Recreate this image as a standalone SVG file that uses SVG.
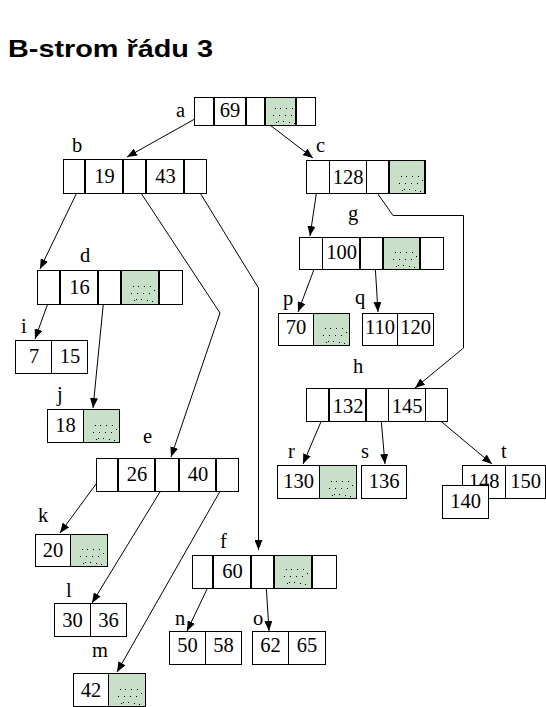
<svg xmlns="http://www.w3.org/2000/svg" xmlns:xlink="http://www.w3.org/1999/xlink" width="546" height="707" viewBox="0 0 546 707">
<style>
.c{fill:#fff;stroke:#000;stroke-width:1}
.gr{fill:#c8dfc8;stroke:#000;stroke-width:1}
.th{fill:none;stroke:#000;stroke-width:2}
.k{text-anchor:middle}
.ln{fill:none;stroke:#000;stroke-width:1}
</style>
<defs>
<marker id="ah" markerUnits="userSpaceOnUse" markerWidth="10" markerHeight="8" refX="10" refY="4" orient="auto">
<path d="M0,0 L10,4 L0,8 z" fill="#000"/>
</marker>
<g id="dots" fill="#000">
<rect x="12" y="16" width="1" height="1"/><rect x="17" y="16" width="1" height="1"/><rect x="23" y="16" width="1" height="1"/><rect x="29" y="16" width="1" height="1"/>
<rect x="10" y="23" width="1" height="1"/><rect x="16" y="23" width="1" height="1"/><rect x="22" y="23" width="1" height="1"/><rect x="28" y="23" width="1" height="1"/><rect x="33" y="20" width="1" height="1"/>
<rect x="13" y="30" width="1" height="1"/><rect x="15" y="29" width="1" height="1"/><rect x="20" y="29" width="1" height="1"/><rect x="26" y="30" width="1" height="1"/><rect x="31" y="31" width="1" height="1"/>
</g>
</defs>
<rect width="546" height="707" fill="#fff"/>
<text x="8" y="57" font-family="Liberation Sans, Arial, sans-serif" font-weight="bold" font-size="24" textLength="205" lengthAdjust="spacingAndGlyphs">B-strom řádu 3</text>

<g id="connectors">
<path class="ln" marker-end="url(#ah)" d="M209,111 L127,157"/>
<path class="ln" marker-end="url(#ah)" d="M253,112 L313,158"/>
<path class="ln" marker-end="url(#ah)" d="M81,184 L40,269"/>
<path class="ln" marker-end="url(#ah)" d="M137,187 L220,313 L171,457"/>
<path class="ln" marker-end="url(#ah)" d="M194,183 L258.5,288 L258.5,550"/>
<path class="ln" marker-end="url(#ah)" d="M317,189 L310,236"/>
<path class="ln" marker-end="url(#ah)" d="M373,187 L393,215.5 L463.5,215.5 L463.5,348 L415,388"/>
<path class="ln" marker-end="url(#ah)" d="M52,292 L35,339"/>
<path class="ln" marker-end="url(#ah)" d="M104,297 L93,408"/>
<path class="ln" marker-end="url(#ah)" d="M316,264 L298,312"/>
<path class="ln" marker-end="url(#ah)" d="M375,263 L378,312"/>
<path class="ln" marker-end="url(#ah)" d="M323,417 L303,464"/>
<path class="ln" marker-end="url(#ah)" d="M381,418 L385,464"/>
<path class="ln" marker-end="url(#ah)" d="M437,418 L492,464"/>
<path class="ln" marker-end="url(#ah)" d="M99,480 L60,533"/>
<path class="ln" marker-end="url(#ah)" d="M163,487 L92,603"/>
<path class="ln" marker-end="url(#ah)" d="M227,479 L117,672"/>
<path class="ln" marker-end="url(#ah)" d="M209,585 L187,631"/>
<path class="ln" marker-end="url(#ah)" d="M266,583 L269,631"/>
</g>

<g id="nodes" font-family="Liberation Serif, Times New Roman, serif" font-size="20.5" fill="#000">

<g id="node-a">
<rect class="c" x="194.5" y="97.5" width="20" height="28"/>
<rect class="c" x="214.5" y="97.5" width="31" height="28"/>
<rect class="c" x="245.5" y="97.5" width="20" height="28"/>
<rect class="gr" x="265.5" y="97.5" width="30" height="28"/>
<rect class="c" x="295.5" y="97.5" width="20" height="28"/>
<use xlink:href="#dots" x="263" y="92"/>
<path class="th" d="M214,97V126M246,97V126M265,97V126M296,97V126"/>
<text class="k" x="230" y="117">69</text>
<text x="176" y="117">a</text>
</g>

<g id="node-b">
<rect class="c" x="63.5" y="159.5" width="22" height="34"/>
<rect class="c" x="85.5" y="159.5" width="38" height="34"/>
<rect class="c" x="123.5" y="159.5" width="23" height="34"/>
<rect class="c" x="146.5" y="159.5" width="38" height="34"/>
<rect class="c" x="184.5" y="159.5" width="22" height="34"/>
<path class="th" d="M85,159V194M123,159V194M146,159V194M184,159V194"/>
<text class="k" x="104.5" y="183">19</text>
<text class="k" x="165.5" y="183">43</text>
<text x="72" y="152">b</text>
</g>

<g id="node-c">
<rect class="c" x="306.5" y="160.5" width="23" height="33"/>
<rect class="c" x="329.5" y="160.5" width="37" height="33"/>
<rect class="c" x="366.5" y="160.5" width="23" height="33"/>
<rect class="gr" x="389.5" y="160.5" width="36" height="33"/>
<use xlink:href="#dots" x="389" y="160"/>
<path class="th" d="M389,160V194M425,160V194"/>
<text class="k" x="348" y="184">128</text>
<text x="316" y="152">c</text>
</g>

<g id="node-d">
<rect class="c" x="37.5" y="270.5" width="23" height="34"/>
<rect class="c" x="60.5" y="270.5" width="38" height="34"/>
<rect class="c" x="98.5" y="270.5" width="23" height="34"/>
<rect class="gr" x="121.5" y="270.5" width="38" height="34"/>
<rect class="c" x="159.5" y="270.5" width="23" height="34"/>
<use xlink:href="#dots" x="121" y="270"/>
<path class="th" d="M60,270V305M98,270V305M121,270V305M159,270V305"/>
<text class="k" x="79.5" y="294">16</text>
<text x="80" y="262">d</text>
</g>

<g id="node-g">
<rect class="c" x="299.5" y="237.5" width="23" height="32"/>
<rect class="c" x="322.5" y="237.5" width="38" height="32"/>
<rect class="c" x="360.5" y="237.5" width="23" height="32"/>
<rect class="gr" x="383.5" y="237.5" width="37" height="32"/>
<rect class="c" x="420.5" y="237.5" width="23" height="32"/>
<use xlink:href="#dots" x="383" y="236"/>
<path class="th" d="M360,237V270M383,237V270M420,237V270"/>
<text class="k" x="341.5" y="259">100</text>
<text x="348" y="220">g</text>
</g>

<g id="node-p">
<rect class="c" x="278.5" y="313.5" width="35" height="32"/>
<rect class="gr" x="313.5" y="313.5" width="36" height="32"/>
<use xlink:href="#dots" x="313" y="312"/>
<text class="k" x="296" y="334">70</text>
<text x="283" y="305">p</text>
</g>

<g id="node-q">
<rect class="c" x="362.5" y="313.5" width="35" height="32"/>
<rect class="c" x="397.5" y="313.5" width="36" height="32"/>
<text class="k" x="380" y="334">110</text>
<text class="k" x="415.5" y="334">120</text>
<text x="355" y="304">q</text>
</g>

<g id="node-h">
<rect class="c" x="306.5" y="388.5" width="23" height="33"/>
<rect class="c" x="329.5" y="388.5" width="37" height="33"/>
<rect class="c" x="366.5" y="388.5" width="22" height="33"/>
<rect class="c" x="388.5" y="388.5" width="37" height="33"/>
<rect class="c" x="425.5" y="388.5" width="22" height="33"/>
<path class="th" d="M329,388V422M366,388V422"/>
<text class="k" x="348" y="413">132</text>
<text class="k" x="407" y="413">145</text>
<text x="353" y="373">h</text>
</g>

<g id="node-i">
<rect class="c" x="15.5" y="340.5" width="36" height="33"/>
<rect class="c" x="51.5" y="340.5" width="36" height="33"/>
<text class="k" x="34" y="363">7</text>
<text class="k" x="70" y="363">15</text>
<text x="21" y="333">i</text>
</g>

<g id="node-j">
<rect class="c" x="47.5" y="409.5" width="36" height="33"/>
<rect class="gr" x="83.5" y="409.5" width="36" height="33"/>
<use xlink:href="#dots" x="83" y="409"/>
<text class="k" x="65.5" y="432">18</text>
<text x="57" y="401">j</text>
</g>

<g id="node-e">
<rect class="c" x="96.5" y="458.5" width="22" height="33"/>
<rect class="c" x="118.5" y="458.5" width="37" height="33"/>
<rect class="c" x="155.5" y="458.5" width="24" height="33"/>
<rect class="c" x="179.5" y="458.5" width="37" height="33"/>
<rect class="c" x="216.5" y="458.5" width="22" height="33"/>
<path class="th" d="M118,458V492M155,458V492M179,458V492M216,458V492"/>
<text class="k" x="137" y="481">26</text>
<text class="k" x="198" y="481">40</text>
<text x="143" y="443">e</text>
</g>

<g id="node-r">
<rect class="c" x="277.5" y="465.5" width="42" height="33"/>
<rect class="gr" x="319.5" y="465.5" width="37" height="33"/>
<use xlink:href="#dots" x="319" y="465"/>
<text class="k" x="298.5" y="488">130</text>
<text x="288" y="458">r</text>
</g>

<g id="node-s">
<rect class="c" x="361.5" y="465.5" width="45" height="33"/>
<text class="k" x="384" y="488">136</text>
<text x="361" y="458">s</text>
</g>

<g id="node-t">
<rect class="c" x="462.5" y="465.5" width="43" height="33"/>
<rect class="c" x="505.5" y="465.5" width="40" height="33"/>
<text class="k" x="484" y="488">148</text>
<text class="k" x="525.5" y="488">150</text>
<text x="501" y="458">t</text>
</g>

<g id="node-140">
<rect class="c" x="442.5" y="485.5" width="46" height="33"/>
<text class="k" x="465.5" y="508">140</text>
</g>

<g id="node-k">
<rect class="c" x="35.5" y="534.5" width="35" height="32"/>
<rect class="gr" x="70.5" y="534.5" width="37" height="32"/>
<use xlink:href="#dots" x="70" y="533"/>
<text class="k" x="53" y="557">20</text>
<text x="38" y="522">k</text>
</g>

<g id="node-f">
<rect class="c" x="192.5" y="555.5" width="21" height="33"/>
<rect class="c" x="213.5" y="555.5" width="38" height="33"/>
<rect class="c" x="251.5" y="555.5" width="23" height="33"/>
<rect class="gr" x="274.5" y="555.5" width="38" height="33"/>
<rect class="c" x="312.5" y="555.5" width="24" height="33"/>
<use xlink:href="#dots" x="274" y="553"/>
<path class="th" d="M213,555V589M251,555V589M274,555V589M312,555V589"/>
<text class="k" x="232.5" y="578">60</text>
<text x="220" y="548">f</text>
</g>

<g id="node-l">
<rect class="c" x="54.5" y="603.5" width="36" height="33"/>
<rect class="c" x="90.5" y="603.5" width="36" height="33"/>
<text class="k" x="72.5" y="627">30</text>
<text class="k" x="108.5" y="627">36</text>
<text x="66" y="597">l</text>
</g>

<g id="node-n">
<rect class="c" x="169.5" y="631.5" width="36" height="33"/>
<rect class="c" x="205.5" y="631.5" width="36" height="33"/>
<text class="k" x="187.5" y="652">50</text>
<text class="k" x="223.5" y="652">58</text>
<text x="175" y="625">n</text>
</g>

<g id="node-o">
<rect class="c" x="252.5" y="631.5" width="36" height="33"/>
<rect class="c" x="288.5" y="631.5" width="37" height="33"/>
<text class="k" x="270.5" y="652">62</text>
<text class="k" x="307" y="652">65</text>
<text x="253" y="625">o</text>
</g>

<g id="node-m">
<rect class="c" x="73.5" y="673.5" width="35" height="33"/>
<rect class="gr" x="108.5" y="673.5" width="37" height="33"/>
<use xlink:href="#dots" x="108" y="673"/>
<text class="k" x="91" y="697">42</text>
<text x="92" y="657">m</text>
</g>

</g>
</svg>
